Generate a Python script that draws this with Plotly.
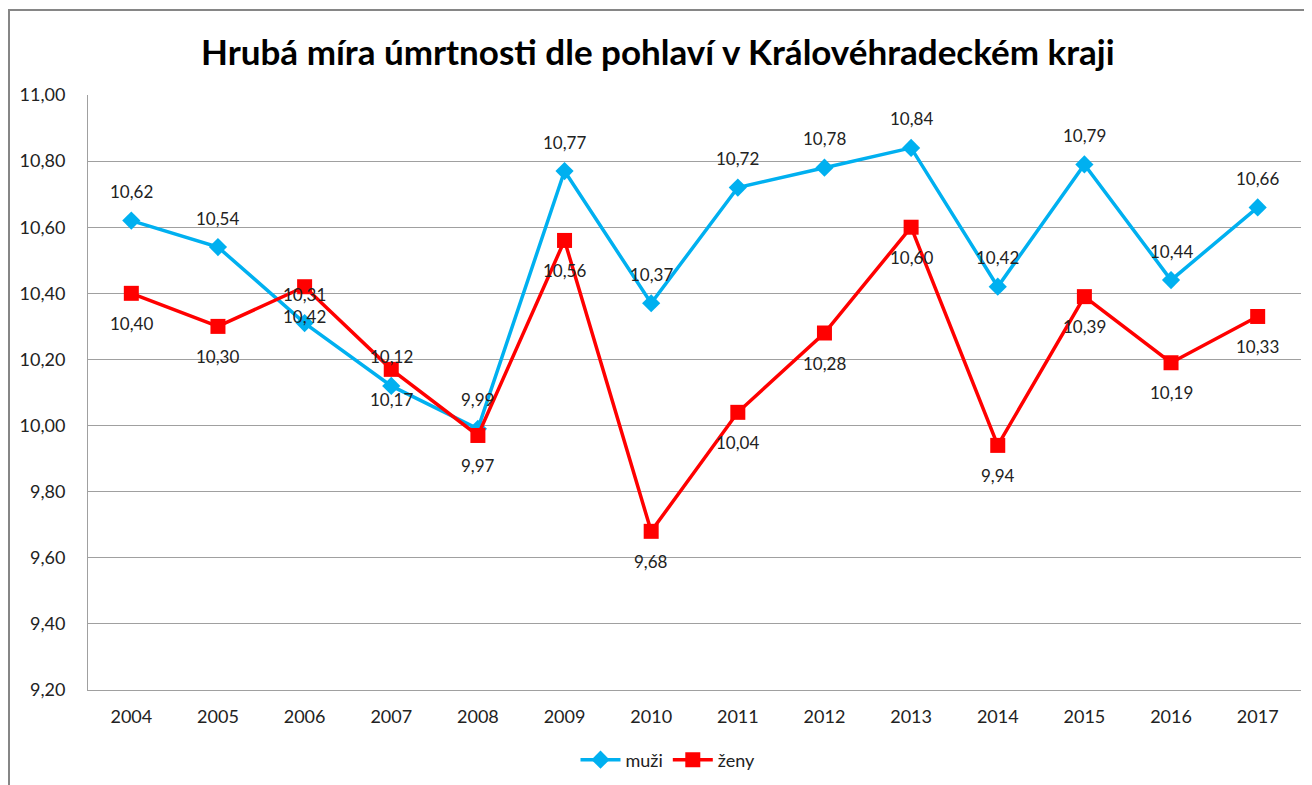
import plotly.graph_objects as go

years = ["2004", "2005", "2006", "2007", "2008", "2009", "2010",
         "2011", "2012", "2013", "2014", "2015", "2016", "2017"]
muzi = [10.62, 10.54, 10.31, 10.12, 9.99, 10.77, 10.37,
        10.72, 10.78, 10.84, 10.42, 10.79, 10.44, 10.66]
zeny = [10.40, 10.30, 10.42, 10.17, 9.97, 10.56, 9.68,
        10.04, 10.28, 10.60, 9.94, 10.39, 10.19, 10.33]
y_ticks = [9.2, 9.4, 9.6, 9.8, 10.0, 10.2, 10.4, 10.6, 10.8, 11.0]

title_text = "Hrubá míra úmrtnosti dle pohlaví v Královéhradeckém kraji"

BLUE = "#00B0F0"
RED = "#FF0000"
FONT = "Lato"
OFF = 8  # page body margin

W, H = 1312 - OFF, 785 - OFF
L, R, T, B = 80, 11, 87, 95
pw, ph = W - L - R, H - T - B


def px_x(page_x):
    return (page_x - OFF - L) / pw


def px_y(page_y):
    return (H - B - (page_y - OFF)) / ph


fig = go.Figure()
fig.add_trace(go.Scatter(
    x=years, y=muzi, name="muži", mode="lines+markers",
    line=dict(color=BLUE, width=3.5),
    marker=dict(symbol="diamond", size=14, color=BLUE),
))
fig.add_trace(go.Scatter(
    x=years, y=zeny, name="ženy", mode="lines+markers",
    line=dict(color=RED, width=3.5),
    marker=dict(symbol="square", size=15, color=RED),
))

ann = []
for i, v in enumerate(muzi):
    ann.append(dict(x=i, y=v, xref="x", yref="y",
                    text=f"{v:.2f}".replace(".", ","), showarrow=False,
                    yshift=29, font=dict(family=FONT, size=17, color="#222")))
for i, v in enumerate(zeny):
    ann.append(dict(x=i, y=v, xref="x", yref="y",
                    text=f"{v:.2f}".replace(".", ","), showarrow=False,
                    yshift=-30, font=dict(family=FONT, size=17, color="#222")))

# chart title
ann.append(dict(xref="paper", yref="paper", x=px_x(658), y=px_y(51),
                text="<b>" + title_text + "</b>", showarrow=False,
                xanchor="center", yanchor="middle",
                font=dict(family=FONT, size=35, color="#000")))

shapes = [
    dict(type="line", xref="paper", yref="paper",
         x0=px_x(9), x1=px_x(9), y0=px_y(10), y1=-1,
         line=dict(color="#868686", width=2)),
    dict(type="line", xref="paper", yref="paper",
         x0=px_x(8), x1=1.2, y0=px_y(10), y1=px_y(10),
         line=dict(color="#868686", width=2)),
]

fig.update_layout(
    width=W, height=H,
    margin=dict(l=L, r=R, t=T, b=B, autoexpand=False),
    paper_bgcolor="white", plot_bgcolor="white",
    separators=", ",
    font=dict(family=FONT, size=18, color="#222"),
    showlegend=True,
    legend=dict(orientation="h", x=px_x(668), xanchor="center",
                y=px_y(760), yanchor="middle",
                font=dict(family=FONT, size=18, color="#222"),
                itemwidth=40, tracegroupgap=0),
    annotations=ann, shapes=shapes,
    xaxis=dict(type="category", showgrid=False, showline=True,
               linecolor="#A0A0A0", linewidth=1, ticks="",
               ticklabelstandoff=10, range=[-0.5, 13.5]),
    yaxis=dict(range=[9.2, 11.0], tickvals=y_ticks, tickformat=".2f",
               showgrid=True, gridcolor="#A0A0A0", gridwidth=1,
               showline=True, linecolor="#A0A0A0", linewidth=1,
               ticks="", ticklabelstandoff=18, zeroline=False),
)

fig.write_html("out.html")
